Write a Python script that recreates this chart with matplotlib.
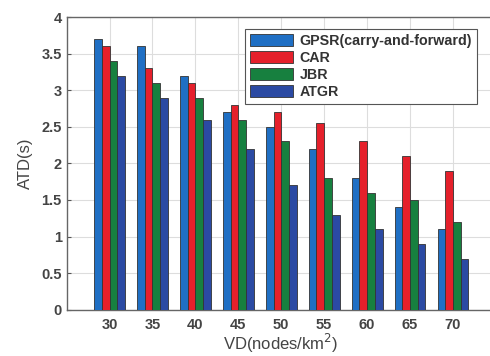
import numpy as np
import matplotlib.pyplot as plt

plt.rcParams['font.family'] = ['Liberation Sans', 'DejaVu Sans']

vd = [30, 35, 40, 45, 50, 55, 60, 65, 70]
gpsr = [3.7, 3.6, 3.2, 2.7, 2.5, 2.2, 1.8, 1.4, 1.1]
car = [3.6, 3.3, 3.1, 2.8, 2.7, 2.55, 2.3, 2.1, 1.9]
jbr = [3.4, 3.1, 2.9, 2.6, 2.3, 1.8, 1.6, 1.5, 1.2]
atgr = [3.2, 2.9, 2.6, 2.2, 1.7, 1.3, 1.1, 0.9, 0.7]
labels = ['GPSR(carry-and-forward)', 'CAR', 'JBR', 'ATGR']
colors = ['#1f6fc4', '#e5202b', '#17803f', '#2b4aa3']

fig = plt.figure(figsize=(4.9, 3.56), dpi=100)
ax = fig.add_axes([0.136, 0.13, 0.876, 0.822])

x = np.array(vd, dtype=float)
w = 0.9
series = [gpsr, car, jbr, atgr]
for i, (vals, lab, col) in enumerate(zip(series, labels, colors)):
    ax.bar(x + (i - 1.5) * w, vals, width=w, color=col, edgecolor='#333333',
           linewidth=0.6, label=lab, zorder=3)

ax.set_xlim(25, 75)
ax.set_ylim(0, 4)
ax.set_xticks(vd)
ax.set_yticks(np.arange(0, 4.01, 0.5))
ax.set_yticklabels(['0', '0.5', '1', '1.5', '2', '2.5', '3', '3.5', '4'])
ax.grid(True, color='#dddddd', linewidth=0.8, zorder=0)
ax.tick_params(direction='in', length=3, colors='#555555', labelsize=10.5,
               labelcolor='#444444')
ax.tick_params(axis='x', pad=6)
for t in ax.get_xticklabels() + ax.get_yticklabels():
    t.set_fontweight('bold')
for s in ax.spines.values():
    s.set_color('#666666')
    s.set_linewidth(1.0)

# x label sits at the very bottom of the figure, as in the reference
ax.set_xlabel('VD(nodes/km$^2$)', fontsize=12, color='#444444', va='bottom')
ax.xaxis.set_label_coords(0.573, 1 / 356, transform=fig.transFigure)
ax.set_ylabel('ATD(s)', fontsize=12, color='#444444', labelpad=6)

leg = ax.legend(loc='upper left', bbox_to_anchor=(0.398, 0.985),
                prop={'weight': 'bold', 'size': 10.3}, handlelength=3.0,
                handleheight=0.9, labelspacing=0.22, borderpad=0.35,
                handletextpad=0.5, fancybox=False, framealpha=1,
                edgecolor='#555555')
leg.get_frame().set_linewidth(0.8)
for t in leg.get_texts():
    t.set_color('#333333')

fig.savefig('out.png', dpi=100)
